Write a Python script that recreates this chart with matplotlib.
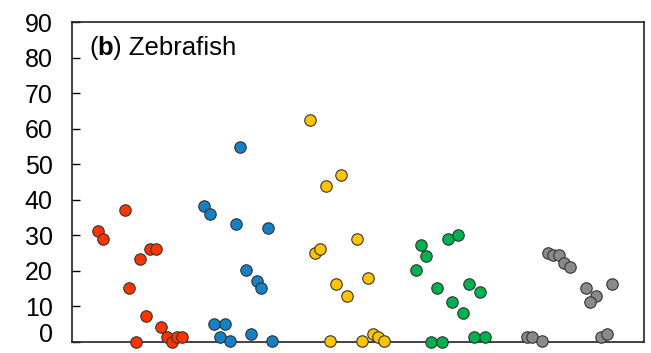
import matplotlib
matplotlib.use("Agg")
import matplotlib.pyplot as plt
from matplotlib.transforms import offset_copy

plt.rcParams['font.family'] = ['Liberation Sans', 'DejaVu Sans']

# jittered x positions (axis runs 0..11.44) and values per group
red_x = [0.53, 0.63, 1.06, 1.15, 1.36, 1.57, 1.69, 1.28, 1.48, 1.79, 1.91, 2.01, 2.11, 2.21]
red_y = [31.2, 28.9, 37.1, 15.2, 23.2, 26.0, 26.0, 0.0, 7.2, 4.2, 1.4, 0.0, 1.2, 1.4]

blue_x = [2.64, 2.76, 3.28, 3.92, 3.49, 3.71, 3.79, 2.85, 3.07, 2.96, 3.16, 3.59, 4.01, 3.37]
blue_y = [38.2, 36.0, 33.1, 31.9, 20.2, 17.1, 15.2, 5.0, 5.0, 1.4, 0.1, 2.1, 0.1, 54.9]

yellow_x = [4.77, 5.08, 5.39, 4.86, 4.96, 5.71, 5.29, 5.51, 5.93, 5.17, 5.81, 6.03, 6.13, 6.25]
yellow_y = [62.5, 44.0, 46.9, 24.9, 26.1, 29.0, 16.3, 13.0, 18.0, 0.3, 0.3, 2.1, 1.2, 0.3]

green_x = [6.98, 7.09, 6.88, 7.53, 7.73, 7.31, 7.94, 8.16, 7.61, 7.83, 7.19, 7.40, 8.05, 8.27]
green_y = [27.2, 24.1, 20.2, 29.0, 30.1, 15.1, 16.2, 14.0, 11.1, 8.2, 0.0, 0.0, 1.3, 1.3]

gray_x = [9.53, 9.63, 9.75, 9.85, 9.96, 10.28, 10.49, 10.37, 10.80, 9.11, 9.21, 9.41, 10.59, 10.71]
gray_y = [25.1, 24.3, 24.3, 22.1, 21.0, 15.2, 13.0, 11.1, 16.3, 1.4, 1.4, 0.1, 1.4, 2.1]

groups = [
    (red_x, red_y, '#ff3300'),
    (blue_x, blue_y, '#1580c6'),
    (yellow_x, yellow_y, '#ffc400'),
    (green_x, green_y, '#00b150'),
    (gray_x, gray_y, '#8a8a8a'),
]

fig = plt.figure(figsize=(6.51, 3.53), dpi=100)
ax = fig.add_axes([0.1106, 0.032, 0.8786, 0.905])

for gx, gy, col in groups:
    ax.scatter(gx, gy, s=68, c=col, edgecolors='#333333', linewidths=0.8,
               zorder=3, clip_on=False)

ax.set_xlim(0, 11.44)
ax.set_ylim(0, 90)
ax.set_yticks(range(0, 91, 10))
ax.set_xticks([])
ax.tick_params(axis='y', direction='in', length=6, width=1, labelsize=18, pad=14)
for sp in ax.spines.values():
    sp.set_linewidth(1.2)
    sp.set_color('#222222')

# bottom label sits a little higher, as in the original
ax.get_yticklabels()[0].set_verticalalignment('baseline')

# panel label: "(b) Zebrafish" with bold b
fs = 18.5
t1 = ax.text(0.03, 0.92, "(", transform=ax.transAxes, fontsize=fs, va='center')
fig.canvas.draw()
r = fig.canvas.get_renderer()
w1 = t1.get_window_extent(r).width
t2 = ax.text(0.03, 0.92, "b", fontsize=fs, va='center', fontweight='bold',
             transform=offset_copy(ax.transAxes, fig=fig, x=w1 * 72 / fig.dpi, units='points'))
w2 = t2.get_window_extent(r).width
ax.text(0.03, 0.92, ") Zebrafish", fontsize=fs, va='center',
        transform=offset_copy(ax.transAxes, fig=fig, x=(w1 + w2) * 72 / fig.dpi, units='points'))

fig.savefig("out.png", dpi=100)
